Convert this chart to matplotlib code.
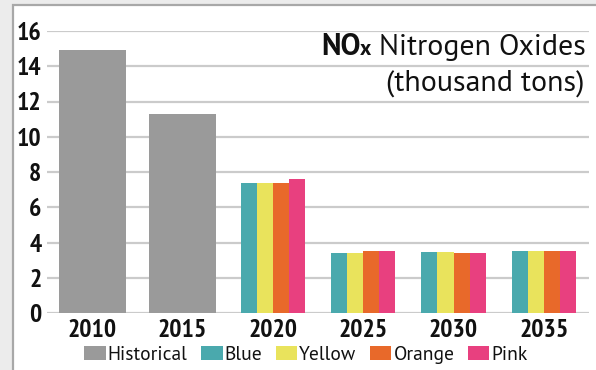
import matplotlib
matplotlib.use("Agg")
import matplotlib.pyplot as plt
from matplotlib.patches import Rectangle
from matplotlib import font_manager as fm
import numpy as np

# Emissions data (thousand tons of NOx)
years = ["2010", "2015", "2020", "2025", "2030", "2035"]
historical_years = ["2010", "2015"]
historical = [14.9, 11.3]
scenario_years = ["2020", "2025", "2030", "2035"]
scenario_names = ["Blue", "Yellow", "Orange", "Pink"]
blue = [7.4, 3.4, 3.45, 3.5]
yellow = [7.4, 3.4, 3.45, 3.5]
orange = [7.35, 3.5, 3.4, 3.5]
pink = [7.6, 3.5, 3.4, 3.5]
yticks = [0, 2, 4, 6, 8, 10, 12, 14, 16]

hist_color = "#9a9a9a"
scen_colors = ["#4aa9ad", "#e9e35c", "#e8692a", "#e8407f"]

installed = {f.name for f in fm.fontManager.ttflist}


def pick(*names):
    for n in names:
        if n in installed:
            return n
    return "DejaVu Sans"


tick_font = pick("PT Sans Narrow", "Roboto Condensed", "Open Sans Condensed",
                 "Liberation Sans Narrow")
text_font = pick("PT Sans", "Lato")

W, H = 596, 370
fig = plt.figure(figsize=(W / 100, H / 100), dpi=100)
fig.patch.set_facecolor("#ececec")

# white panel with a gray frame
panel = Rectangle((12.5 / W, -0.1), 1.2, (H - 5) / H + 0.1,
                  transform=fig.transFigure, facecolor="white",
                  edgecolor="#a8a8a8", linewidth=1.6, zorder=-10)
fig.add_artist(panel)

ax = fig.add_axes([47 / W, 1 - 313 / H, (589 - 47) / W, (313 - 31) / H])
ax.set_facecolor("none")
ax.set_zorder(1)

x = np.arange(len(years))
pos = {y: i for i, y in enumerate(years)}

hx = [pos[y] for y in historical_years]
ax.bar(hx, historical, width=0.74, color=hist_color, label="Historical", zorder=3)

sw = 0.178
series = [blue, yellow, orange, pink]
sx = np.array([pos[y] for y in scenario_years], dtype=float)
for k, (vals, name, col) in enumerate(zip(series, scenario_names, scen_colors)):
    ax.bar(sx + (k - 1.5) * sw, vals, width=sw, color=col, label=name, zorder=3)

ax.set_xlim(-0.5, len(years) - 0.5)
ax.set_ylim(0, 16)
ax.set_yticks(yticks)
ax.set_xticks(x)
ax.set_xticklabels(years)
for s in ax.spines.values():
    s.set_visible(False)
ax.yaxis.grid(True, color="#cbcbcb", linewidth=1.6, zorder=0)
ax.set_axisbelow(True)
ax.tick_params(axis="both", length=0)
ax.tick_params(axis="y", pad=4)
ax.tick_params(axis="x", pad=4)

for lab in ax.get_yticklabels() + ax.get_xticklabels():
    lab.set_fontfamily([tick_font, "DejaVu Sans"])
    lab.set_fontweight("bold")
    lab.set_fontsize(18.5)
    lab.set_color("#111111")

# legend below the axis
leg = fig.legend(loc="center", bbox_to_anchor=(306 / W, 1 - 355 / H), ncol=5,
                 frameon=False, prop=dict(family=text_font, size=14),
                 handlelength=1.1, handleheight=0.72, handletextpad=0.1,
                 columnspacing=0.7, borderaxespad=0, borderpad=0)
for t in leg.get_texts():
    t.set_color("#111111")

# title, right aligned, built from pieces
fig.canvas.draw()
renderer = fig.canvas.get_renderer()


def put(text, x_right_px, base_px, **kw):
    t = fig.text(x_right_px / W, 1 - base_px / H, text, ha="right", va="baseline",
                 color="#111111", zorder=5, **kw)
    w = t.get_window_extent(renderer).width
    return x_right_px - w


xr = put(" Nitrogen Oxides", 586, 55, family=text_font, size=21.5)
xr = put("x", xr, 55, family=text_font, size=15.5, weight="bold")
put("NO", xr + 1, 55, family=text_font, size=21.5, weight="bold")
put("(thousand tons)", 584, 91, family=text_font, size=21.5)

fig.savefig("out.png", dpi=100, facecolor=fig.get_facecolor())
